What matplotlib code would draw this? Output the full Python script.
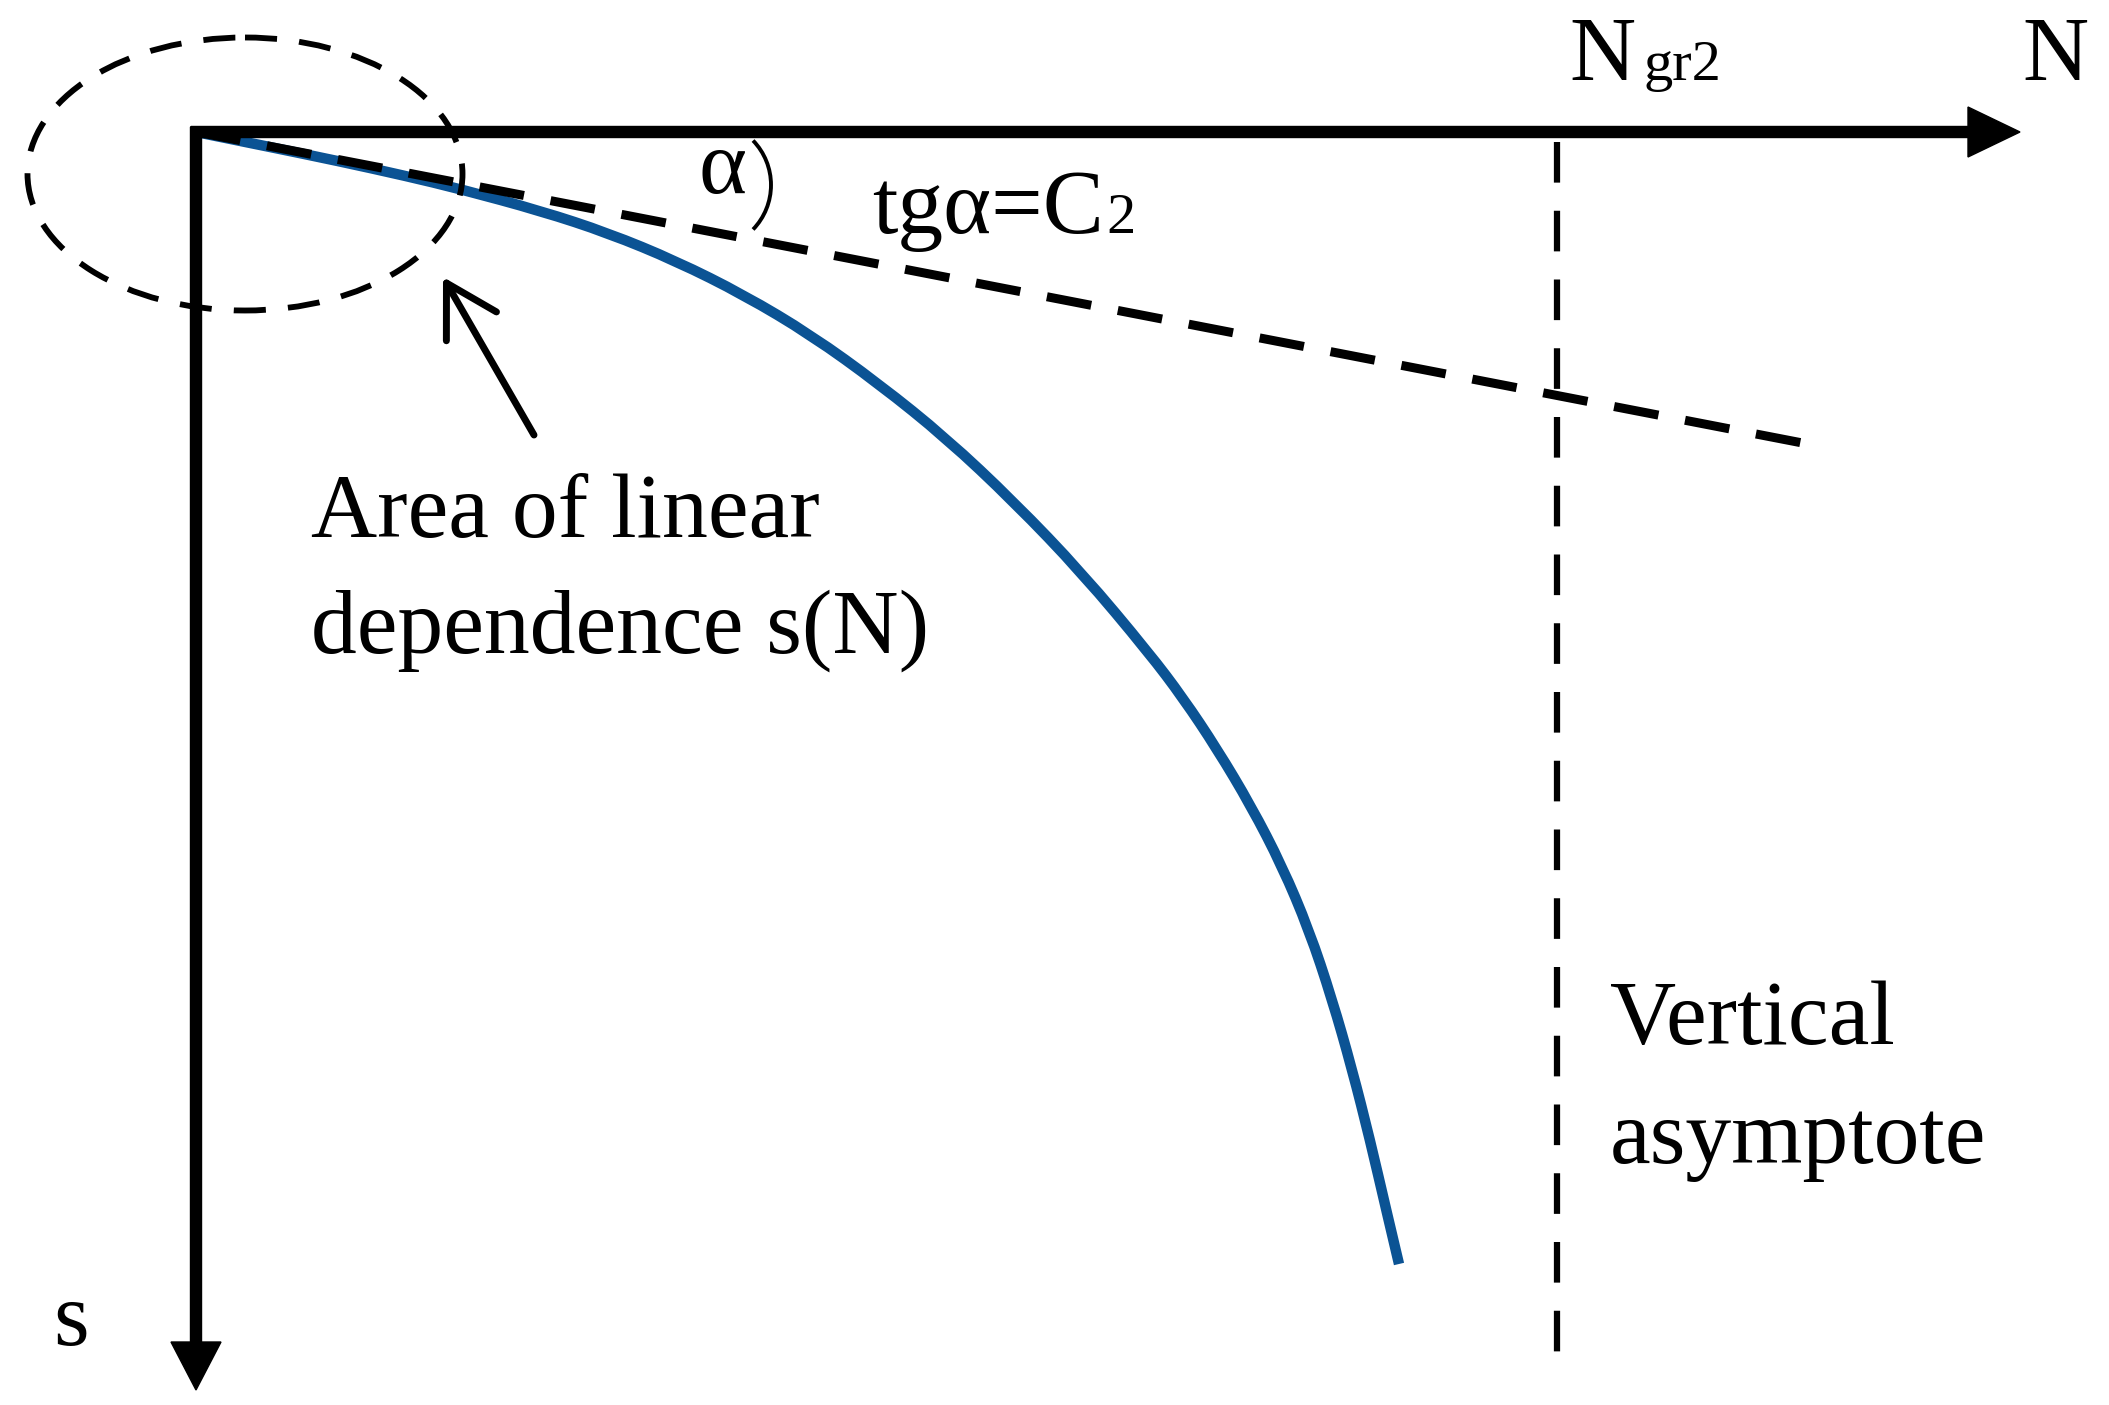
import matplotlib
matplotlib.use("Agg")
import matplotlib.pyplot as plt
from matplotlib.patches import Ellipse, Arc, PathPatch
from matplotlib.path import Path

# schematic s(N) curve (pixel units, y down)
curve_n = [196, 270, 338, 406, 460, 541, 608, 676, 744, 811, 879, 946, 1014,
           1082, 1149, 1183, 1217, 1251, 1282, 1309, 1332, 1352, 1370, 1386, 1399]
curve_s = [132, 147, 161, 176, 189, 211, 233, 261, 295, 335, 384, 438, 502,
           573, 653, 698, 749, 806, 866, 930, 999, 1069, 1140, 1209, 1264]

# tangent tg(alpha)=C2 through origin
tan_n = [196, 1818]
tan_s = [132, 446]

# vertical asymptote at N_gr2
n_gr2 = 1557
asym_s = [142, 1374]

origin = (196, 132)
n_end = 2020
s_end = 1390

blue = '#0b5394'
font = ['Liberation Serif', 'DejaVu Serif']

fig = plt.figure(figsize=(21.09, 14.05), dpi=100)
ax = fig.add_axes([0, 0, 1, 1])
ax.set_xlim(0, 2109)
ax.set_ylim(1405, 0)
ax.axis('off')

# axes with arrows
ax.arrow(origin[0] - 5, origin[1], n_end - origin[0] + 5, 0, width=11, head_width=50,
         head_length=52, length_includes_head=True, color='k', zorder=3)
ax.arrow(origin[0], origin[1] - 5, 0, s_end - origin[1] + 5, width=11, head_width=50,
         head_length=48, length_includes_head=True, color='k', zorder=3)

# curve drawn as a smooth quadratic path through the read points
pts = list(zip(curve_n, curve_s))
verts = [pts[0]]
codes = [Path.MOVETO]
for i in range(1, len(pts) - 1):
    if i == len(pts) - 2:
        end = pts[i + 1]
    else:
        end = ((pts[i][0] + pts[i + 1][0]) / 2, (pts[i][1] + pts[i + 1][1]) / 2)
    verts += [pts[i], end]
    codes += [Path.CURVE3, Path.CURVE3]
ax.add_patch(PathPatch(Path(verts, codes), fill=False, edgecolor=blue, lw=7.5,
                       capstyle='butt', zorder=2))

ax.plot(tan_n, tan_s, color='k', lw=6.5, linestyle=(0, (5, 3)), zorder=4)
ax.plot([n_gr2, n_gr2], asym_s, color='k', lw=4.5, linestyle=(0, (6.5, 4.5)), zorder=2)

ell = Ellipse((245, 174), 435, 273, fill=False, edgecolor='k', lw=4.2,
              linestyle=(0, (5.5, 3.8)), zorder=4)
ax.add_patch(ell)

# angle mark
ax.add_patch(Arc((707, 185), 128, 128, theta1=-44, theta2=44, color='k', lw=2.8))

# pointer to the linear area
ax.annotate('', xy=(443, 277), xytext=(534, 435),
            arrowprops=dict(arrowstyle='->,head_length=0.45,head_width=0.26',
                            lw=5, color='k', mutation_scale=80, shrinkA=0, shrinkB=0))

fs = 66
ax.text(311, 537, 'Area of linear', fontsize=fs, family=font, va='baseline')
ax.text(311, 653, 'dependence s(N)', fontsize=fs, family=font, va='baseline')
ax.text(1610, 1044, 'Vertical', fontsize=fs, family=font, va='baseline')
ax.text(1610, 1163, 'asymptote', fontsize=fs, family=font, va='baseline')
ax.text(2022, 80, 'N', fontsize=fs, family=font, va='baseline')
ax.text(1569, 80, 'N', fontsize=fs, family=font, va='baseline')
ax.text(1643, 80, 'gr2', fontsize=42, family=font, va='baseline')
ax.text(872, 233, 'tgα=C', fontsize=fs, family=font, va='baseline')
ax.text(1106, 233, '2', fontsize=42, family=font, va='baseline')
ax.text(698, 193, 'α', fontsize=fs, family=font, va='baseline')
ax.text(53, 1345, 's', fontsize=fs, family=font, va='baseline')

fig.savefig('out.png', dpi=100)
